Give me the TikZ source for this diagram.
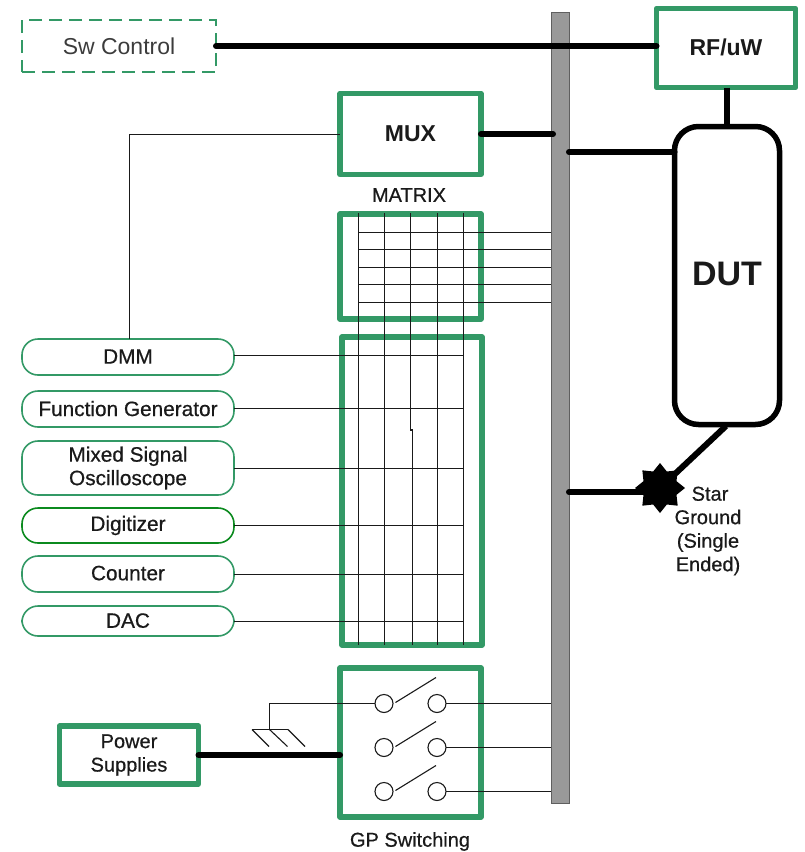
\documentclass[tikz,border=0pt]{standalone}
\usepackage{fontspec}
\setmainfont{Liberation Sans}
\usetikzlibrary{shapes.geometric,calc}
\definecolor{gbox}{HTML}{339966}
\definecolor{gdark}{HTML}{0B8A1E}
\definecolor{barg}{HTML}{999999}
\definecolor{ink}{HTML}{1A1A1A}
\newcommand{\semibold}{\addfontfeature{FakeBold=0.6}}
\tikzset{
  greenbox/.style={draw=gbox,line width=5.5pt,line join=round,inner sep=0pt,outer sep=0pt,fill=none},
  pill/.style={draw=gbox,line width=1.6pt,rounded corners=16pt,minimum width=212pt,inner sep=0pt,outer sep=0pt,align=center,font=\fontsize{20.8}{23.5}\selectfont\semibold,text=ink},
  thick wire/.style={line width=6pt,line cap=round,black},
  thin wire/.style={line width=1.1pt,draw=ink},
  sw contact/.style={circle,draw=ink,line width=1.1pt,minimum size=18pt,inner sep=0pt,outer sep=0pt},
  label/.style={inner sep=0pt,outer sep=0pt,align=center,font=\fontsize{20}{23.5}\selectfont\semibold,text=ink},
  boldlabel/.style={inner sep=0pt,font=\fontsize{23}{27}\selectfont\bfseries,text=ink}
}
\begin{document}
\begin{tikzpicture}[x=1pt,y=-1pt]
\useasboundingbox (0,0) rectangle (804,852);
% bus bar
\node[draw=ink!70,line width=1pt,fill=barg,minimum width=18pt,minimum height=791pt,inner sep=0pt,outer sep=0pt] (bar) at (560,407.5) {};
% boxes
\node[draw=gbox,line width=1.6pt,dash pattern=on 13pt off 7pt,minimum width=194pt,minimum height=52pt,inner sep=0pt,outer sep=0pt,font=\fontsize{23}{27}\selectfont,text=ink!85] (sw) at (119,46) {Sw Control};
\node[greenbox,minimum width=139pt,minimum height=79pt,boldlabel] (rf) at (726,48) {\raisebox{2pt}{RF/uW}};
\node[greenbox,minimum width=141pt,minimum height=81pt,boldlabel] (mux) at (410.5,134) {\raisebox{1pt}{MUX}};
\node[label] (mtxlabel) at (409,195) {MATRIX};
\node[greenbox,minimum width=141pt,minimum height=105pt] (matrix) at (410.5,266.5) {};
\node[greenbox,minimum width=140pt,minimum height=308pt] (sel) at (412,491) {};
\node[greenbox,minimum width=141pt,minimum height=149pt] (gp) at (410.5,742.5) {};
\node[label] (gplabel) at (410,841.5) {GP Switching};
\node[greenbox,minimum width=139pt,minimum height=58pt,align=center,label,line width=5.5pt,draw=gbox] (ps) at (129,755) {Power\\Supplies};
\node[draw=black,line width=5.5pt,rounded corners=24pt,minimum width=105pt,minimum height=298pt,inner sep=0pt,outer sep=0pt,font=\fontsize{34}{40}\selectfont\bfseries,text=ink] (dut) at (727,275.5) {\raisebox{3pt}{DUT}};
% instrument pills
\node[pill,minimum height=36pt] (dmm) at (128,357) {\raisebox{1pt}{DMM}};
\node[pill,minimum height=36pt] (fg) at (128,409) {\raisebox{1pt}{Function Generator}};
\node[pill,minimum height=54pt] (mso) at (128,468) {Mixed Signal\\Oscilloscope};
\node[pill,minimum height=35pt,draw=gdark] (dig) at (128,525.5) {Digitizer};
\node[pill,minimum height=36pt] (cnt) at (128,574) {\raisebox{2pt}{Counter}};
\node[pill,minimum height=30pt] (dac) at (128,621) {\raisebox{1pt}{DAC}};
% matrix column tops / bottoms
\coordinate (c1t) at (358.5,213); \coordinate (c1b) at (358.5,645);
\coordinate (c2t) at (384.5,213); \coordinate (c2b) at (384.5,645);
\coordinate (c3t) at (410.5,213); \coordinate (c3m) at (410.5,430); \coordinate (c3n) at (412.5,430); \coordinate (c3b) at (412.5,645);
\coordinate (c4t) at (437.5,213); \coordinate (c4b) at (437.5,645);
\coordinate (c5t) at (463.5,213); \coordinate (c5b) at (463.5,645);
\draw[thin wire] (c1t)--(c1b) (c2t)--(c2b) (c3t)--(c3m)--(c3n)--(c3b) (c4t)--(c4b) (c5t)--(c5b);
% matrix rows to the bar
\foreach \yy/\nn in {232.5/r1,249.5/r2,267.5/r3,284.5/r4,302.5/r5}{
  \coordinate (\nn) at (358.5,\yy);
  \draw[thin wire] (\nn) -- (\nn -| bar.west);
}
% instruments into the selector
\foreach \nn/\dy in {dmm/1.5,fg/0.5,mso/-0.5,dig/0,cnt/-0.5,dac/-0.5}{
  \coordinate (\nn out) at ([yshift=\dy pt]\nn.east);
  \draw[thin wire] (\nn out) -- (\nn out -| c5t);
}
\coordinate (muxin) at (129.5,134.5);
\draw[thin wire] (dmm.north -| muxin) -- (muxin) -- (muxin -| mux.west);
% heavy connections
\draw[thick wire] (sw.east) -- (sw.east -| rf.west);
\draw[thick wire] (mux.east) -- (553,134);
\draw[thick wire] (bar.east |- 0,152) -- (dut.west |- 0,152);
\draw[thick wire,line cap=butt] (dut.north |- rf.south) -- (dut.north);
\node[star,star points=8,star point ratio=1.4,fill=black,draw=none,minimum size=50pt,inner sep=0pt,outer sep=0pt] (gnd) at (660,488) {};
\draw[thick wire,line cap=butt] (726,426) coordinate (dutfoot) -- (gnd.center);
\draw[thick wire] (gnd.center |- 0,492) -- (569,492);
\node[label] (gndlabel) at (708,531) {\hspace*{4pt}Star\\Ground\\(Single\\Ended)};
% GP switching contents
\foreach \yy/\i in {703.5/1,747.5/2,791.5/3}{
  \node[sw contact] (l\i) at (384,\yy) {};
  \node[sw contact] (r\i) at (437,\yy) {};
  \coordinate (tip\i) at (436,\yy-26);
  \draw[thin wire] (395.5,\yy-1) coordinate (base\i) -- (tip\i);
  \draw[thin wire] (r\i.east) -- (r\i.east -| bar.west);
}
\coordinate (gj) at (269.5,729.5);
\draw[thin wire] (l1.west) -- (gj |- l1.west) -- (gj);
\coordinate (gw) at (252,729.5); \coordinate (ge) at (288,729.5);
\draw[thin wire] (gw) -- (ge);
\draw[thin wire] (gw) -- ++(17,17);
\draw[thin wire] (gj) -- ++(18,17);
\draw[thin wire] (ge) -- ++(17,17);
\draw[thick wire] (ps.east) -- (ps.east -| gp.west);
\end{tikzpicture}
\end{document}
